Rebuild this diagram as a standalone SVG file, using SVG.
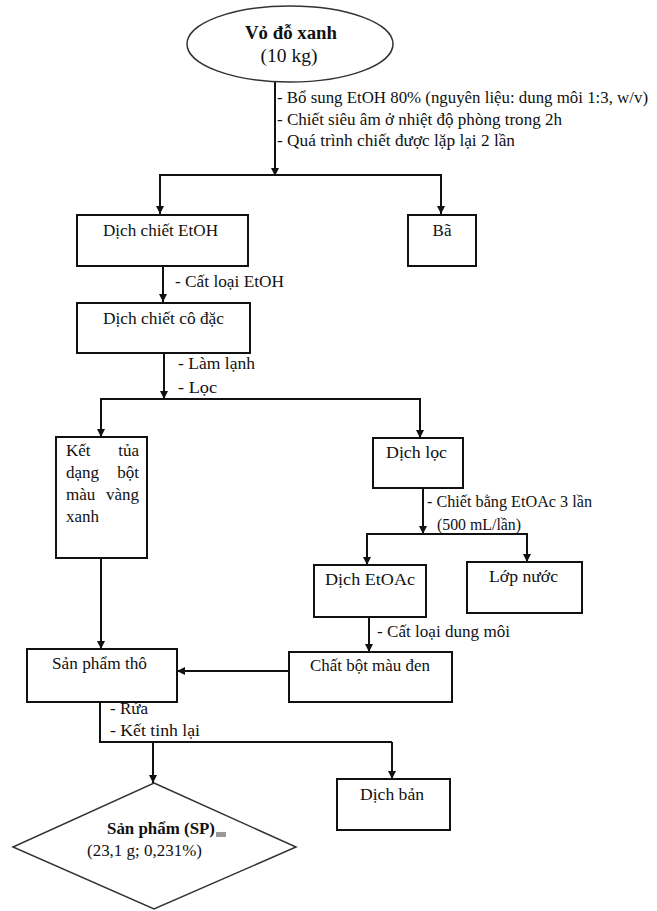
<svg xmlns="http://www.w3.org/2000/svg" width="657" height="911" viewBox="0 0 657 911">
<defs>
<style>
.t{font-family:"Liberation Serif","Times New Roman",serif;font-size:17px;fill:#111}
.m{text-anchor:middle}
.e{text-anchor:end}
.b{font-weight:bold}
.box{fill:#fff;stroke:#111;stroke-width:2}
.thin{fill:#fff;stroke:#333;stroke-width:1.5}
.ln{fill:none;stroke:#111;stroke-width:2}
</style>
<marker id="ah" markerUnits="userSpaceOnUse" markerWidth="9" markerHeight="9" refX="8" refY="4" orient="auto">
<path d="M0,0 L8,4 L0,8 z" fill="#111"/>
</marker>
</defs>
<rect width="657" height="911" fill="#fff"/>

<g id="connectors">
<path class="ln" d="M275,82 V176" marker-end="url(#ah)"/>
<path class="ln" d="M160,213 V175 H441 V213"/>
<path class="ln" d="M160,176 V214" marker-end="url(#ah)"/>
<path class="ln" d="M441,176 V214" marker-end="url(#ah)"/>
<path class="ln" d="M163,266 V302" marker-end="url(#ah)"/>
<path class="ln" d="M164,353 V399" marker-end="url(#ah)"/>
<path class="ln" d="M101,436 V399 H420 V436"/>
<path class="ln" d="M101,400 V437" marker-end="url(#ah)"/>
<path class="ln" d="M420,400 V438" marker-end="url(#ah)"/>
<path class="ln" d="M423,488 V534" marker-end="url(#ah)"/>
<path class="ln" d="M367,562 V534 H527 V562"/>
<path class="ln" d="M367,535 V565" marker-end="url(#ah)"/>
<path class="ln" d="M527,535 V562" marker-end="url(#ah)"/>
<path class="ln" d="M369,617 V652" marker-end="url(#ah)"/>
<path class="ln" d="M101,558 V649" marker-end="url(#ah)"/>
<path class="ln" d="M289,671 H177" marker-end="url(#ah)"/>
<path class="ln" d="M100,702 V742 H392"/>
<path class="ln" d="M153,742 V783" marker-end="url(#ah)"/>
<path class="ln" d="M392,742 V779" marker-end="url(#ah)"/>
</g>

<g id="labels">
<text class="t" x="277" y="103" textLength="371" lengthAdjust="spacingAndGlyphs">- Bổ sung EtOH 80% (nguyên liệu: dung môi 1:3, w/v)</text>
<text class="t" x="277" y="125" textLength="285" lengthAdjust="spacingAndGlyphs">- Chiết siêu âm ở nhiệt độ phòng trong 2h</text>
<text class="t" x="277" y="146" textLength="238" lengthAdjust="spacingAndGlyphs">- Quá trình chiết được lặp lại 2 lần</text>
<text class="t" x="175" y="287" textLength="109" lengthAdjust="spacingAndGlyphs">- Cất loại EtOH</text>
<text class="t" x="178" y="369" textLength="77" lengthAdjust="spacingAndGlyphs">- Làm lạnh</text>
<text class="t" x="178" y="393" textLength="39" lengthAdjust="spacingAndGlyphs">- Lọc</text>
<text class="t" x="427" y="507" textLength="165" lengthAdjust="spacingAndGlyphs">- Chiết bằng EtOAc 3 lần</text>
<text class="t" x="437" y="530" textLength="84" lengthAdjust="spacingAndGlyphs">(500 mL/lần)</text>
<text class="t" x="377" y="637" textLength="133" lengthAdjust="spacingAndGlyphs">- Cất loại dung môi</text>
<text class="t" x="110" y="714">- Rửa</text>
<text class="t" x="110" y="736" textLength="90" lengthAdjust="spacingAndGlyphs">- Kết tinh lại</text>
</g>

<g id="vo-do-xanh">
<ellipse class="thin" cx="290" cy="44" rx="103" ry="38"/>
<text class="t m b" x="291" y="39" style="font-size:18px" textLength="92" lengthAdjust="spacingAndGlyphs">Vỏ đỗ xanh</text>
<text class="t m" x="289" y="62" style="font-size:18px" textLength="57" lengthAdjust="spacingAndGlyphs">(10 kg)</text>
</g>

<g id="dich-chiet-etoh">
<rect class="box" x="77" y="215" width="171" height="51"/>
<text class="t m" x="160.5" y="236" textLength="115" lengthAdjust="spacingAndGlyphs">Dịch chiết EtOH</text>
</g>

<g id="ba">
<rect class="box" x="408" y="215" width="68" height="51"/>
<text class="t m" x="442" y="236">Bã</text>
</g>

<g id="dich-chiet-co-dac">
<rect class="box" x="77" y="303" width="173" height="50"/>
<text class="t m" x="163.5" y="324" textLength="121" lengthAdjust="spacingAndGlyphs">Dịch chiết cô đặc</text>
</g>

<g id="ket-tua">
<rect class="box" x="56" y="437" width="91" height="121"/>
<text class="t" x="66" y="456">Kết</text>
<text class="t e" x="139" y="456">tủa</text>
<text class="t" x="66" y="478">dạng</text>
<text class="t e" x="139" y="478">bột</text>
<text class="t" x="66" y="500">màu</text>
<text class="t e" x="139" y="500">vàng</text>
<text class="t" x="66" y="522">xanh</text>
</g>

<g id="dich-loc">
<rect class="box" x="373" y="438" width="90" height="50"/>
<text class="t m" x="416.5" y="458" textLength="61" lengthAdjust="spacingAndGlyphs">Dịch lọc</text>
</g>

<g id="dich-etoac">
<rect class="box" x="314" y="565" width="112" height="52"/>
<text class="t m" x="370" y="585" textLength="90" lengthAdjust="spacingAndGlyphs">Dịch EtOAc</text>
</g>

<g id="lop-nuoc">
<rect class="box" x="467" y="562" width="115" height="51"/>
<text class="t m" x="523.5" y="582" textLength="69" lengthAdjust="spacingAndGlyphs">Lớp nước</text>
</g>

<g id="chat-bot-mau-den">
<rect class="box" x="289" y="652" width="163" height="50"/>
<text class="t m" x="370" y="671" textLength="120" lengthAdjust="spacingAndGlyphs">Chất bột màu đen</text>
</g>

<g id="san-pham-tho">
<rect class="box" x="27" y="649" width="150" height="53"/>
<text class="t m" x="99.5" y="669" textLength="95" lengthAdjust="spacingAndGlyphs">Sản phẩm thô</text>
</g>

<g id="dich-ban">
<rect class="box" x="337" y="779" width="113" height="51"/>
<text class="t m" x="392" y="800" textLength="64" lengthAdjust="spacingAndGlyphs">Dịch bản</text>
</g>

<g id="san-pham">
<polygon class="thin" points="154,783 296,847 154,909 13,847"/>
<text class="t m b" x="161" y="834" textLength="108" lengthAdjust="spacingAndGlyphs">Sản phẩm (SP)</text>
<rect x="216" y="832" width="10" height="5" fill="#999"/>
<text class="t m" x="144.5" y="856" textLength="115" lengthAdjust="spacingAndGlyphs">(23,1 g; 0,231%)</text>
</g>
</svg>
